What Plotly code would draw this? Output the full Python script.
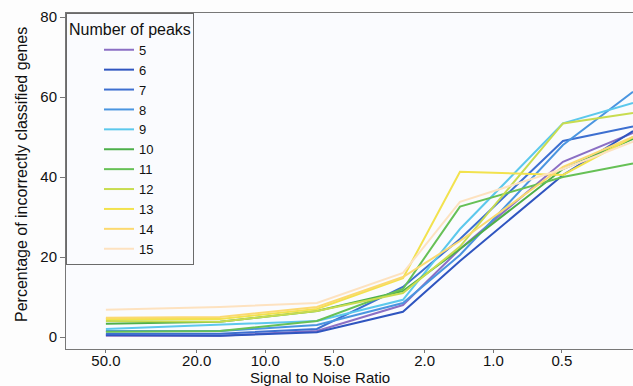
import math
import plotly.graph_objects as go

snr = [50, 15.8, 5.94, 2.49, 1.40, 0.495, 0.244]
series_names = ["5", "6", "7", "8", "9", "10", "11", "12", "13", "14", "15"]
values = {
    "5":  [0.3, 0.3, 1.5, 8.0, 22.0, 43.8, 51.0],
    "6":  [0.5, 0.3, 1.2, 6.3, 19.0, 40.5, 51.5],
    "7":  [0.8, 0.8, 2.0, 12.5, 24.5, 49.0, 52.6],
    "8":  [1.5, 1.5, 3.0, 8.5, 20.5, 48.0, 61.3],
    "9":  [2.0, 3.0, 4.0, 9.3, 27.0, 53.4, 58.5],
    "10": [3.3, 3.8, 6.5, 11.5, 22.0, 42.0, 49.5],
    "11": [1.3, 1.5, 4.0, 12.0, 32.6, 40.0, 43.4],
    "12": [4.0, 3.8, 6.5, 11.0, 22.6, 53.4, 56.0],
    "13": [4.5, 4.5, 7.0, 14.7, 41.3, 40.5, 50.0],
    "14": [4.8, 5.0, 7.5, 15.0, 24.0, 42.5, 50.0],
    "15": [6.8, 7.5, 8.5, 16.0, 33.8, 42.0, 48.8],
}
colors = {
    "5": "#8b6fc4", "6": "#2f55c0", "7": "#3d6fd0", "8": "#4a95e0",
    "9": "#5cc8ec", "10": "#4daf4a", "11": "#66c056", "12": "#c8dc50",
    "13": "#f2e24e", "14": "#fbd970", "15": "#fde2c0",
}
tick_vals = [50, 20, 10, 5, 2, 1, 0.5]
tick_text = ["50.0", "20.0", "10.0", "5.0", "2.0", "1.0", "0.5"]
y_ticks = [0, 20, 40, 60, 80]

font = "Liberation Sans, Arial, Helvetica, sans-serif"

fig = go.Figure()
for name in series_names:
    fig.add_trace(go.Scatter(
        x=snr, y=values[name], mode="lines", name=name,
        line=dict(color=colors[name], width=2),
    ))

W, H = 633, 386
L, R, T, B = 66, 0, 13, 37
pw, ph = W - L - R, H - T - B

fig.update_layout(
    width=W, height=H,
    margin=dict(l=L, r=R, t=T, b=B, pad=0),
    paper_bgcolor="#fdfdfd",
    plot_bgcolor="#fafbfe",
    font=dict(family=font, size=15, color="#111"),
    showlegend=True,
    legend=dict(
        x=0, y=1, xanchor="left", yanchor="top",
        bgcolor="rgba(250,251,254,1)",
        bordercolor="#6a6a6a", borderwidth=1,
        font=dict(size=13),
        title=dict(text="Number of peaks", font=dict(size=16)),
        indentation=32,
        tracegroupgap=0,
        itemwidth=30,
    ),
    xaxis=dict(
        type="log",
        range=[math.log10(74.8), math.log10(0.244)],
        tickvals=tick_vals, ticktext=tick_text,
        ticks="outside", ticklen=3, tickcolor="#777",
        ticklabelstandoff=-5,
        showline=True, linecolor="#777", linewidth=1, mirror=True,
        showgrid=False, zeroline=False,
        tickfont=dict(size=15),
    ),
    yaxis=dict(
        range=[-3, 81],
        tickvals=y_ticks,
        ticks="outside", ticklen=5, tickcolor="#777",
        showline=True, linecolor="#777", linewidth=1, mirror=True,
        showgrid=False, zeroline=False,
        tickfont=dict(size=15),
    ),
    annotations=[
        dict(text="Signal to Noise Ratio", xref="paper", yref="paper",
             x=(320 - L) / pw, y=-(388 - (T + ph)) / ph,
             xanchor="center", yanchor="bottom", showarrow=False,
             font=dict(size=15)),
        dict(text="Percentage of incorrectly classified genes", xref="paper", yref="paper",
             x=(22 - L) / pw, y=((T + ph) - 175) / ph, textangle=-90,
             xanchor="center", yanchor="middle", showarrow=False,
             font=dict(size=16)),
    ],
)

fig.write_html("out.html")
